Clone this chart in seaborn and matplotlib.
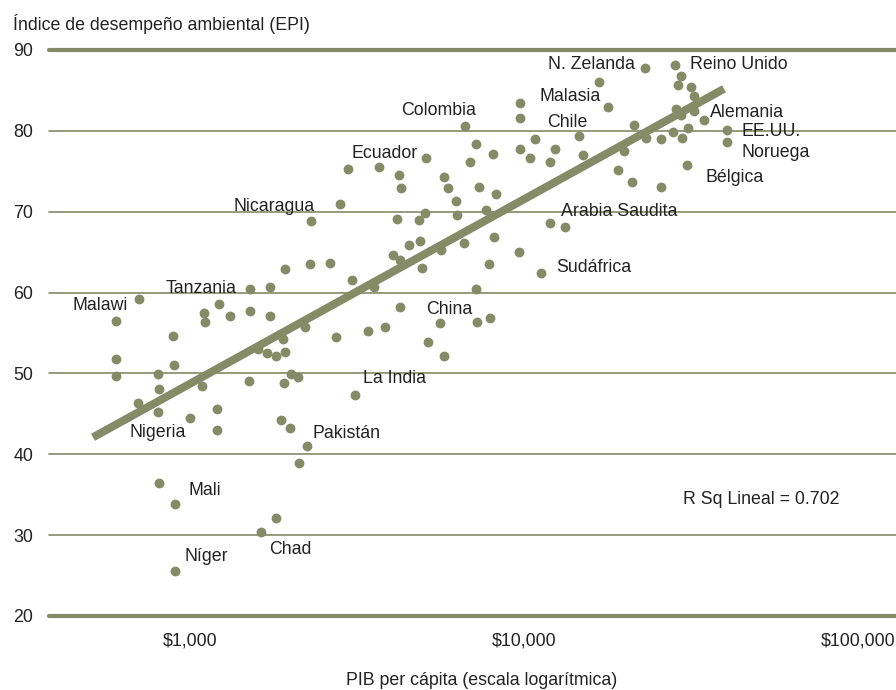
import matplotlib
matplotlib.use("Agg")
import matplotlib.pyplot as plt
from matplotlib.ticker import NullLocator
import numpy as np
import pandas as pd
import seaborn as sns

# Labelled countries: GDP per capita (USD, PPP) and EPI score
named_countries = ["N. Zelanda", "Reino Unido", "Malasia", "Colombia", "Chile",
                   "Alemania", "EE.UU.", "Noruega", "Bélgica", "Ecuador",
                   "Nicaragua", "Arabia Saudita", "Sudáfrica", "Tanzania",
                   "Malawi", "China", "La India", "Nigeria", "Pakistán",
                   "Mali", "Chad", "Níger"]
named_gdp = [23030, 28400, 17800, 6670, 14600,
             34500, 40400, 40400, 30700, 5080,
             2300, 12000, 11220, 1510,
             602, 5600, 3108, 804, 2236,
             904, 1628, 904]
named_epi = [87.8, 88.1, 83.0, 80.6, 79.4,
             81.3, 80.1, 78.6, 75.8, 76.7,
             68.9, 68.6, 62.4, 60.5,
             56.5, 56.2, 47.3, 45.2, 41.0,
             33.9, 30.4, 25.6]

# Remaining countries (unlabelled)
other_gdp = [29600, 28900, 31600, 32300, 16800, 28600, 29500, 32300, 21300, 31000,
             28000, 29700, 23200, 25700, 15000, 19900, 19100, 21100, 25700, 9760,
             9760, 7160, 8090, 6870, 9750, 10800, 10440, 12400, 12000, 3680,
             2980, 4220, 4280, 5770, 5940, 6270, 7350, 8260, 7700, 6300,
             5040, 4860, 4160, 2820, 8150, 6630, 4890, 4530, 4040, 4250,
             4960, 5660, 7850, 9690, 13290, 7180, 3550, 3060, 2620, 2290,
             1920, 1730, 4240, 3840, 3420, 2740, 2210, 1900, 7230, 7890,
             5150, 5740, 1600, 1700, 1810, 1920, 1730, 1510, 1320, 1220,
             1100, 1110, 889, 704, 600, 602, 799, 894, 806, 699,
             1088, 1001, 1203, 1203, 1497, 2006, 2109, 1905, 1870, 1997,
             2123, 808, 1809]
other_epi = [86.8, 85.7, 85.4, 84.3, 86.0, 82.7, 81.9, 82.5, 80.7, 80.4,
             79.8, 79.1, 79.1, 79.0, 77.0, 77.5, 75.1, 73.7, 73.0, 83.5,
             81.6, 78.4, 77.1, 76.2, 77.7, 79.0, 76.6, 77.8, 76.1, 75.5,
             75.3, 74.5, 72.9, 74.3, 72.9, 71.3, 73.1, 72.2, 70.2, 69.6,
             69.8, 69.0, 69.1, 71.0, 66.9, 66.1, 66.4, 65.9, 64.7, 64.0,
             63.1, 65.3, 63.5, 65.0, 68.1, 60.4, 60.7, 61.5, 63.6, 63.5,
             62.9, 60.7, 58.2, 55.8, 55.2, 54.5, 55.7, 54.3, 56.4, 56.9,
             53.9, 52.1, 53.0, 52.5, 52.2, 52.7, 57.1, 57.7, 57.1, 58.6,
             57.5, 56.3, 54.6, 59.2, 51.8, 49.7, 49.9, 51.1, 48.1, 46.3,
             48.5, 44.5, 45.6, 43.0, 49.1, 49.9, 49.5, 48.8, 44.3, 43.2,
             38.9, 36.4, 32.1]

# Linear fit (EPI vs log GDP) end points
fit_gdp = [512, 39700]
fit_epi = [42.1, 85.2]
r_squared = 0.702

y_ticks = [20, 30, 40, 50, 60, 70, 80, 90]
x_ticks = [1000, 10000, 100000]
x_tick_labels = ["$1,000", "$10,000", "$100,000"]

# Label placement (offset in points, horizontal alignment)
label_layout = {
    "N. Zelanda": (-7.2, 2.6, "right"),
    "Reino Unido": (10.4, 0.9, "left"),
    "Malasia": (-5.0, 7.3, "right"),
    "Colombia": (7.8, 11.4, "right"),
    "Chile": (6.3, 9.6, "right"),
    "Alemania": (4.7, 5.7, "left"),
    "EE.UU.": (11.0, -1.0, "left"),
    "Noruega": (11.0, -7.3, "left"),
    "Bélgica": (13.2, -9.3, "left"),
    "Ecuador": (-5.5, 2.8, "right"),
    "Nicaragua": (2.9, 10.4, "right"),
    "Arabia Saudita": (7.7, 8.4, "left"),
    "Sudáfrica": (11.0, 4.2, "left"),
    "Tanzania": (-9.4, 0.2, "right"),
    "Malawi": (8.4, 11.0, "right"),
    "China": (6.6, 9.8, "center"),
    "La India": (6.1, 12.0, "left"),
    "Nigeria": (-0.6, -14.5, "center"),
    "Pakistán": (3.8, 9.1, "left"),
    "Mali": (9.1, 9.6, "left"),
    "Chad": (6.0, -12.5, "left"),
    "Níger": (6.3, 10.5, "left"),
}

OLIVE = "#858a67"
TEXT = "#222222"
FS = 12.8

sns.set_theme(style="white")
plt.rcParams["font.family"] = ["Liberation Sans", "DejaVu Sans"]

df = pd.DataFrame({
    "gdp": named_gdp + other_gdp,
    "epi": named_epi + other_epi,
})

fig = plt.figure(figsize=(8.96, 6.9), dpi=100)
ax = fig.add_axes([0.05469, 0.10725, 0.94531, 0.82029])
ax.set_xscale("log")

# Horizontal reference lines
for v in y_ticks:
    edge = v in (y_ticks[0], y_ticks[-1])
    ax.axhline(v, color=OLIVE, lw=3.0 if edge else 1.2, zorder=1, clip_on=False)

sns.lineplot(x=fit_gdp, y=fit_epi, color=OLIVE, linewidth=5.8, ax=ax,
             zorder=2, solid_capstyle="butt")
sns.scatterplot(data=df, x="gdp", y="epi", color=OLIVE, s=50, linewidth=0,
                ax=ax, zorder=3)

for name, g, e in zip(named_countries, named_gdp, named_epi):
    dx, dy, ha = label_layout[name]
    ax.annotate(name, xy=(g, e), xytext=(dx, dy), textcoords="offset points",
                ha=ha, va="center", fontsize=FS, color=TEXT, zorder=4)

ax.text(0.748, 0.198, f"R Sq Lineal = {r_squared:.3f}", transform=ax.transAxes,
        ha="left", va="baseline", fontsize=FS, color=TEXT)

ax.set_xlim(378, 130000)
ax.set_ylim(20, 90)
ax.set_yticks(y_ticks)
ax.set_xticks(x_ticks)
ax.set_xticklabels(x_tick_labels)
ax.xaxis.set_minor_locator(NullLocator())
ax.tick_params(axis="x", length=0, pad=12, labelsize=FS, colors=TEXT)
ax.tick_params(axis="y", length=0, pad=11.3, labelsize=FS, colors=TEXT)
ax.set_xlabel("")
ax.set_ylabel("")
for s in ax.spines.values():
    s.set_visible(False)

fig.text(12.7 / 896, 1 - 29.5 / 690, "Índice de desempeño ambiental (EPI)",
         ha="left", va="baseline", fontsize=FS, color=TEXT)
fig.text(482 / 896, 1 - 685 / 690, "PIB per cápita (escala logarítmica)",
         ha="center", va="baseline", fontsize=FS, color=TEXT)

fig.savefig("out.png", dpi=100)
